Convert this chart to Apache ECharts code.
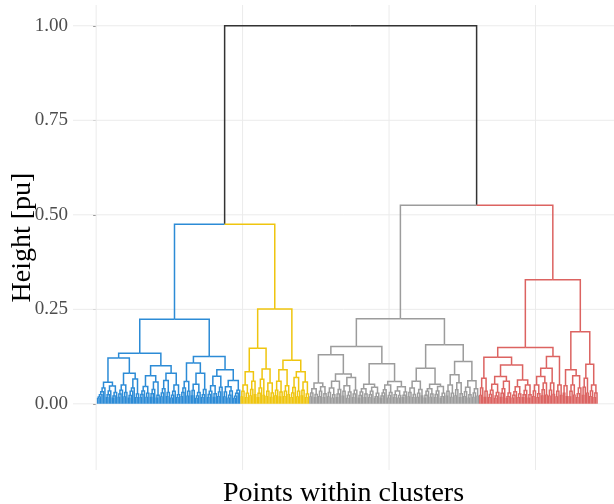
<!DOCTYPE html>
<html><head><meta charset="utf-8">
<script src="https://cdn.jsdelivr.net/npm/echarts@6/dist/echarts.min.js"></script>
<style>html,body{margin:0;padding:0;background:#fff}#c{width:614px;height:504px}</style>
</head><body><div id="c"></div>
<script>
// Tree notation: node = [height, left, right]; a plain list of numbers is a "comb"
// (k merge heights, k+1 leaves, highest merge first).
const blueTree = [0.224,
  [0.134,
    [0.121,
      [0.057, [0.042,0.032,0.024,0.018,0.014], [0.047, [0.034,0.024,0.016], [0.03,0.021,0.015]]],
      [0.081, [0.05, [0.036,0.026,0.017], [0.03,0.018]], [0.066, [0.042,0.033,0.022,0.015], [0.026,0.016]]]],
    [0.101,
      [0.074, [0.046, [0.034,0.025,0.016], [0.028,0.017]], [0.058, [0.038,0.027,0.017], [0.023,0.015]]],
      [0.081, [0.062, [0.04,0.029,0.018], [0.03,0.019]], [0.05, [0.033,0.023,0.015], [0.024,0.016]]]]],
  [0.125,
    [0.108,
      [0.059, [0.042,0.03,0.019], [0.033,0.02]],
      [0.081, [0.052, [0.035,0.021], [0.03,0.021,0.014]], [0.038,0.024,0.016]]],
    [0.09,
      [0.073, [0.048, [0.033,0.025,0.016], [0.027,0.017]], [0.044,0.031,0.019]],
      [0.062, [0.045, [0.031,0.018], [0.034,0.023,0.015]], [0.036,0.028,0.02,0.014]]]]];

const yellowTree = [0.251,
  [0.147,
    [0.085, [0.05, [0.033,0.018], [0.028,0.016]], [0.06, [0.038,0.021], [0.024]]],
    [0.092, [0.065, [0.042,0.028,0.016], [0.022]], [0.055, [0.033,0.019], [0.029,0.017]]]],
  [0.115,
    [0.09, [0.06, [0.036,0.021], [0.031,0.018]], [0.048, [0.033,0.019], [0.024]]],
    [0.085, [0.07, [0.043,0.029,0.016], [0.033,0.018]], [0.058, [0.036,0.021], [0.026,0.016]]]]];

const grayTree = [0.225,
  [0.152,
    [0.13,
      [0.055, [0.04, [0.029,0.018], [0.025,0.016]], [0.045, [0.033,0.019], [0.027,0.016]]],
      [0.079,
        [0.06, [0.042, [0.03,0.018], [0.024,0.015]], [0.038,0.026,0.016]],
        [0.07, [0.048, [0.033,0.02], [0.031,0.022,0.014]], [0.036,0.026,0.016]]]],
    [0.106,
      [0.052, [0.04, [0.031,0.022,0.015], [0.026,0.016]], [0.044, [0.033,0.024,0.016], [0.028,0.019,0.014]]],
      [0.059,
        [0.05, [0.037,0.029,0.021,0.015], [0.03,0.022,0.015]],
        [0.045, [0.034, [0.024,0.016], [0.022,0.015]], [0.031,0.023,0.016]]]]],
  [0.156,
    [0.094,
      [0.06, [0.042, [0.03,0.018], [0.025,0.016]], [0.038, [0.028,0.017], [0.021]]],
      [0.052, [0.04, [0.033,0.023,0.015], [0.026,0.017]], [0.046, [0.034,0.025,0.016], [0.028,0.019,0.014]]]],
    [0.112,
      [0.077, [0.05, [0.033,0.02], [0.028,0.017]], [0.056, [0.037,0.021], [0.027,0.016]]],
      [0.061, [0.044, [0.032,0.019], [0.024,0.015]], [0.04, [0.029,0.017], [0.02]]]]]];

const redTree = [0.328,
  [0.149,
    [0.123,
      [0.068, [0.042,0.022], [0.033,0.017]],
      [0.103,
        [0.072, [0.052, [0.036,0.025,0.016], [0.03,0.021,0.014]], [0.06, [0.04,0.028,0.017], [0.029,0.019,0.014]]],
        [0.063, [0.045, [0.032,0.023,0.015], [0.026,0.016]], [0.05, [0.035,0.024,0.016], [0.024,0.015]]]]],
    [0.125,
      [0.094,
        [0.072, [0.05, [0.034,0.019], [0.027,0.016]], [0.055, [0.037,0.021], [0.023]]],
        [0.055, [0.036,0.02], [0.025]]],
      [0.05, [0.033,0.018], [0.022]]]],
  [0.191,
    [0.09, [0.048, [0.028], [0.019]], [0.074, [0.05, [0.033,0.018], [0.023]], [0.042,0.027,0.016]]],
    [0.105, [0.068, [0.044,0.022], [0.028]], [0.05, [0.034,0.019], [0.029,0.016]]]]];

const clusterTrees = [blueTree, yellowTree, grayTree, redTree];
const clusterColors = ['#2C8BD6', '#EFC50F', '#9C9C9C', '#DC6361'];
const rootColor = '#333333';
const rootHeight = 1.0;
const leftMergeHeight = 0.475;   // blue + yellow
const rightMergeHeight = 0.525;  // gray + red
const yTicks = [0, 0.25, 0.5, 0.75, 1.0];
const xBreaks = [0, 100, 200, 300];

function isComb(t) {
  return t.length === 0 || t.length < 3 || (typeof t[1] === 'number' && t[1] > 0);
}
function build(t, color) {
  if (t === 0) return { leaf: true, color };
  if (isComb(t)) {
    let cur = { leaf: true, color };
    for (let i = t.length - 1; i >= 0; i--) cur = { h: t[i], l: cur, r: { leaf: true, color }, color };
    return cur;
  }
  return { h: t[0], l: build(t[1], color), r: build(t[2], color), color };
}
const palette = clusterColors.concat([rootColor]);
const root = {
  h: rootHeight, color: 4,
  l: { h: leftMergeHeight, color: 4, l: build(clusterTrees[0], 0), r: build(clusterTrees[1], 1) },
  r: { h: rightMergeHeight, color: 4, l: build(clusterTrees[2], 2), r: build(clusterTrees[3], 3) }
};
let leafCounter = 1;
function layout(n) {
  if (n.leaf) { n.x = leafCounter++; n.h = 0; return; }
  layout(n.l); layout(n.r);
  n.x = (n.l.x + n.r.x) / 2;
}
layout(root);
const segs = [];
function collect(n) {
  if (n.leaf) return;
  [n.l, n.r].forEach(c => {
    segs.push([c.x, c.h, c.x, n.h, n.x, n.h, c.color]);
    collect(c);
  });
}
collect(root);

const FONT = 'Liberation Serif';
const chart = echarts.init(document.getElementById('c'), null, { renderer: 'canvas' });
chart.setOption({
  animation: false,
  backgroundColor: '#ffffff',
  grid: { left: 73, right: 0, top: 5, bottom: 34, containLabel: false, outerBoundsMode: 'none' },
  xAxis: {
    type: 'value', min: -15.8, max: 353.6,
    axisLine: { show: false }, axisTick: { show: false }, axisLabel: { show: false }, splitLine: { show: false },
    name: 'Points within clusters', nameLocation: 'middle', nameGap: 10, nameMoveOverlap: false,
    nameTextStyle: { fontFamily: FONT, fontSize: 28, color: '#000' }
  },
  yAxis: {
    type: 'value', min: -0.175, max: 1.055,
    axisLine: { show: false }, splitLine: { show: false },
    axisTick: { show: true, customValues: yTicks, length: 3, lineStyle: { color: '#777', width: 1 } },
    axisLabel: { customValues: yTicks, margin: 5, fontFamily: FONT, fontSize: 19, color: '#4d4d4d',
      formatter: v => v.toFixed(2) },
    name: 'Height [pu]', nameLocation: 'middle', nameGap: 36, nameMoveOverlap: false,
    nameTextStyle: { fontFamily: FONT, fontSize: 28, color: '#000' }
  },
  series: [
    {
      type: 'custom', silent: true, z: 1, data: yTicks.map(v => [v]), encode: { y: 0 },
      renderItem(params, api) {
        const cs = params.coordSys;
        const y = api.coord([0, api.value(0)])[1];
        return { type: 'line', shape: { x1: cs.x, y1: y, x2: cs.x + cs.width, y2: y },
          style: { stroke: '#ebebeb', lineWidth: 1 } };
      }
    },
    {
      type: 'custom', silent: true, z: 1, data: xBreaks.map(v => [v]), encode: { x: 0 },
      renderItem(params, api) {
        const cs = params.coordSys;
        const x = api.coord([api.value(0), 0])[0];
        return { type: 'line', shape: { x1: x, y1: cs.y, x2: x, y2: cs.y + cs.height },
          style: { stroke: '#ebebeb', lineWidth: 1 } };
      }
    },
    {
      type: 'custom', silent: true, z: 2, data: segs, encode: { x: [0, 2, 4], y: [1, 3, 5] },
      renderItem(params, api) {
        const p0 = api.coord([api.value(0), api.value(1)]);
        const p1 = api.coord([api.value(2), api.value(3)]);
        const p2 = api.coord([api.value(4), api.value(5)]);
        return { type: 'polyline', shape: { points: [p0, p1, p2] },
          style: { stroke: palette[api.value(6)], lineWidth: 1.5, fill: null } };
      }
    }
  ]
});
</script></body></html>
